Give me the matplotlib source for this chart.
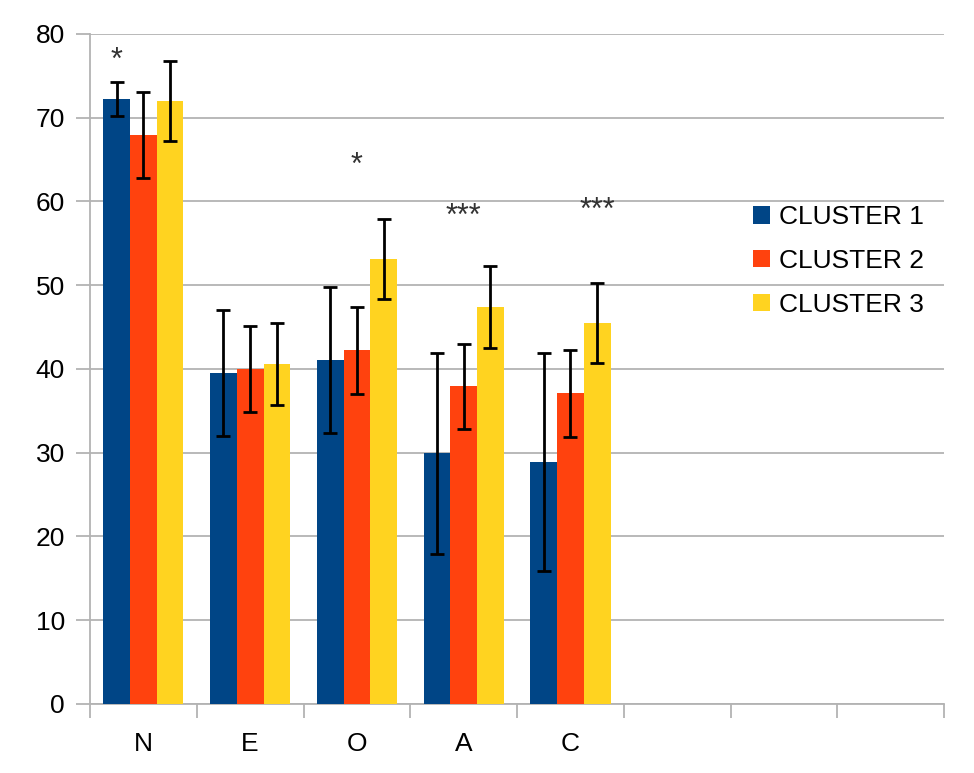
import numpy as np
import matplotlib
matplotlib.use('Agg')
import matplotlib.pyplot as plt

plt.rcParams['font.family'] = ['Liberation Sans', 'DejaVu Sans']

traits = ['N', 'E', 'O', 'A', 'C']
series = ['CLUSTER 1', 'CLUSTER 2', 'CLUSTER 3']
cluster1 = [72.2, 39.5, 41.1, 29.9, 28.9]
cluster2 = [67.9, 40.0, 42.2, 37.9, 37.1]
cluster3 = [72.0, 40.6, 53.1, 47.4, 45.5]
err1 = [2.0, 7.5, 8.7, 12.0, 13.0]
err2 = [5.1, 5.1, 5.2, 5.1, 5.2]
err3 = [4.8, 4.9, 4.8, 4.9, 4.8]
stars = ['*', '', '*', '***', '***']
star_y = [77.2, 0, 64.7, 58.6, 59.3]
star_bar = [0, 0, 1, 1, 2]     # which bar the star sits over
n_slots = 8

colors = ['#004586', '#ff420e', '#ffd320']
values = [cluster1, cluster2, cluster3]
errors = [err1, err2, err3]

fig = plt.figure(figsize=(9.74, 7.73), dpi=100)
ax = fig.add_axes([0.0924, 0.0893, 0.877, 0.867])

x = np.arange(len(traits)) + 0.5
w = 0.25
for i in range(3):
    ax.bar(x + (i - 1) * w, values[i], w, color=colors[i], label=series[i],
           yerr=errors[i], capsize=5,
           error_kw=dict(elinewidth=2, capthick=2, ecolor='black'),
           zorder=3)

for i, s in enumerate(stars):
    if s:
        ax.text(x[i] + (star_bar[i] - 1) * w, star_y[i], s, ha='center',
                va='center_baseline', fontsize=22, color='#333333')

ax.set_ylim(0, 80)
ax.set_xlim(0, n_slots)
ax.set_yticks(range(0, 81, 10))
ax.yaxis.grid(True, color='#b3b3b3', linewidth=1.3, zorder=0)
ax.set_axisbelow(True)

ax.set_xticks(range(n_slots + 1))
ax.set_xticklabels([])
ax.set_xticks(x, minor=True)
ax.set_xticklabels(traits, minor=True, fontsize=19)
ax.tick_params(axis='x', which='minor', length=0, pad=20)
ax.tick_params(axis='x', which='major', length=10, color='#b3b3b3', width=1.3)
ax.tick_params(axis='y', length=10, color='#b3b3b3', width=1.3,
               labelsize=19, pad=8)

for side in ['top', 'right']:
    ax.spines[side].set_visible(False)
for side in ['left', 'bottom']:
    ax.spines[side].set_color('#b3b3b3')
    ax.spines[side].set_linewidth(1.3)

ax.legend(loc='upper left', bbox_to_anchor=(753 / 974, 1 - 205 / 773),
          bbox_transform=fig.transFigure, frameon=False, borderpad=0,
          borderaxespad=0, fontsize=19, handlelength=0.65, handleheight=0.65,
          handletextpad=0.35, labelspacing=0.75)

plt.savefig('out.png', dpi=100)
